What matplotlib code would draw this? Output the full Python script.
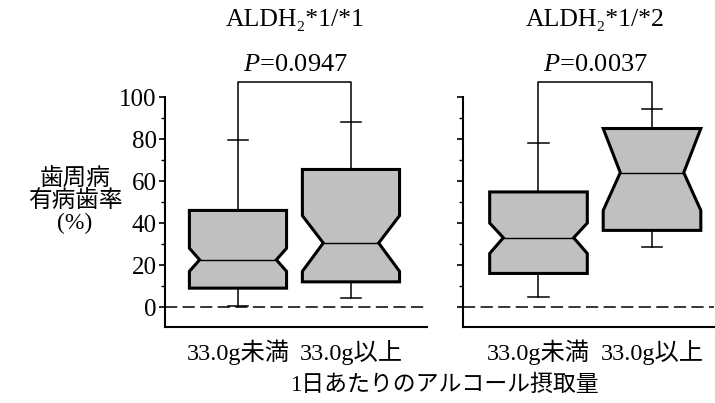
import numpy as np
import matplotlib
matplotlib.use("Agg")
import matplotlib.pyplot as plt

plt.rcParams['font.family'] = ['Liberation Serif', 'Noto Sans CJK JP']
plt.rcParams['mathtext.fontset'] = 'custom'
plt.rcParams['mathtext.rm'] = 'Liberation Serif'
plt.rcParams['mathtext.it'] = 'Liberation Serif:italic'

# Data -------------------------------------------------------------------
groups = ["33.0g未満", "33.0g以上"]
genotypes = ["ALDH₂*1/*1", "ALDH₂*1/*2"]
p_values = ["0.0947", "0.0037"]

# per genotype: [under 33.0g, 33.0g or more]
whislo = [[0.5, 4.3], [5.0, 28.5]]
q1 = [[9.0, 12.0], [16.0, 36.5]]
med = [[22.5, 30.5], [33.0, 64.0]]
q3 = [[46.0, 65.5], [54.8, 85.0]]
whishi = [[79.5, 88.0], [78.2, 94.3]]
cilo = [[17.0, 17.0], [25.5, 46.0]]
cihi = [[28.0, 43.5], [40.0, 85.0]]
notch_frac = [[0.79, 0.57], [0.72, 0.65]]

major_ticks = [0, 20, 40, 60, 80, 100]
minor_ticks = [10, 30, 50, 70, 90]

ylabel_lines = ["歯周病", "有病歯率", "(%)"]
xlabel = "1日あたりのアルコール摂取量"

# Layout -----------------------------------------------------------------
W, H = 715, 403
fig = plt.figure(figsize=(W / 100, H / 100), dpi=100)

ax_rects = [
    [165 / W, (H - 327) / H, (427 - 165) / W, (327 - 76) / H],
    [463 / W, (H - 327) / H, (714 - 463) / W, (327 - 76) / H],
]
xlims = [(0.354, 2.673), (0.335, 2.546)]
positions = [1, 2]
box_w = 0.86
fill = '#c0c0c0'

for k in range(2):
    ax = fig.add_axes(ax_rects[k])
    stats = []
    for j in range(2):
        stats.append(dict(med=med[k][j], q1=q1[k][j], q3=q3[k][j],
                          whislo=whislo[k][j], whishi=whishi[k][j],
                          cilo=cilo[k][j], cihi=cihi[k][j], fliers=[]))
    art = ax.bxp(stats, positions=positions, widths=box_w, shownotches=True,
                 patch_artist=True, showfliers=False, capwidths=0.18,
                 boxprops=dict(facecolor=fill, edgecolor='black', linewidth=2.2),
                 whiskerprops=dict(color='black', linewidth=1.1),
                 capprops=dict(color='black', linewidth=1.1),
                 medianprops=dict(color='black', linewidth=1.0))

    # set the waist width of each notch
    for j, (patch, mline) in enumerate(zip(art['boxes'], art['medians'])):
        pos = positions[j]
        half = box_w / 2 * notch_frac[k][j]
        v = patch.get_path().vertices
        at_med = np.isclose(v[:, 1], med[k][j])
        v[at_med & (v[:, 0] < pos), 0] = pos - half
        v[at_med & (v[:, 0] > pos), 0] = pos + half
        mline.set_xdata([pos - half, pos + half])

    # zero reference line
    ax.axhline(0, color='black', linewidth=1.1, linestyle=(0, (8, 3.5)))

    # significance bracket
    by = 107
    ax.plot([positions[0], positions[0], positions[1], positions[1]],
            [whishi[k][0], by, by, whishi[k][1]],
            color='black', linewidth=1.1, clip_on=False)

    ax.set_xlim(*xlims[k])
    ax.set_ylim(-9.5, 110)
    for s in ['top', 'right']:
        ax.spines[s].set_visible(False)
    ax.spines['left'].set_bounds(-9.5, 100)
    ax.spines['left'].set_linewidth(1.5)
    ax.spines['bottom'].set_linewidth(1.5)

    ax.set_yticks(major_ticks)
    ax.set_yticks(minor_ticks, minor=True)
    ax.tick_params(axis='y', which='major', length=4, width=1.2, pad=2,
                   labelsize=18)
    ax.tick_params(axis='y', which='minor', length=3, width=1.0)
    if k == 1:
        ax.tick_params(axis='y', labelleft=False)

    ax.set_xticks(positions)
    ax.set_xticklabels(groups, fontsize=17.5)
    ax.tick_params(axis='x', length=0, pad=9)

    cx = 295 if k == 0 else 595
    fig.text(cx / W, 1 - 20 / H, genotypes[k], ha='center', va='center',
             fontsize=18.5)
    fig.text(cx / W, 1 - 65 / H, "$P$=" + p_values[k], ha='center',
             va='center', fontsize=19)

fig.text(75 / W, 1 - 201 / H, "\n".join(ylabel_lines), ha='center',
         va='center', fontsize=17, linespacing=1.0)
fig.text(444 / W, 1 - 385 / H, xlabel, ha='center', va='center', fontsize=16.5)

fig.savefig("out.png", dpi=100, facecolor='white')
